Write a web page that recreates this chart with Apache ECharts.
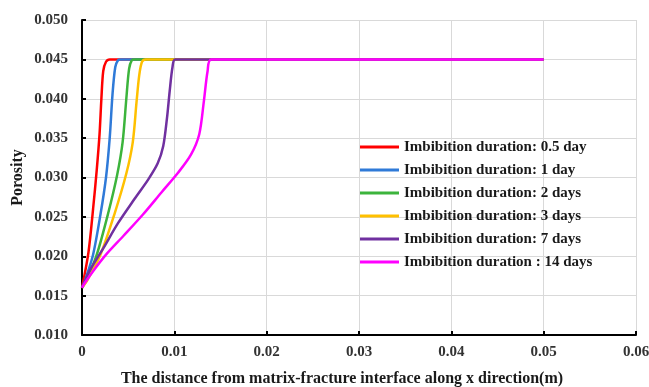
<!DOCTYPE html>
<html>
<head>
<meta charset="utf-8">
<script src="https://cdn.jsdelivr.net/npm/echarts@6/dist/echarts.min.js"></script>
<style>
  html, body { margin: 0; padding: 0; background: #fff; }
  #chart { width: 649px; height: 387px; }
</style>
</head>
<body>
<div id="chart"></div>
<script>
// Porosity profiles [distance (m), porosity] for each imbibition duration
const seriesNames = [
  'Imbibition duration: 0.5 day',
  'Imbibition duration: 1 day',
  'Imbibition duration: 2 days',
  'Imbibition duration: 3 days',
  'Imbibition duration: 7 days',
  'Imbibition duration : 14 days'
];
const day05 = [[0,0.016],[0.0007,0.0205],[0.0012,0.026],[0.0016,0.031],[0.0019,0.0355],[0.0021,0.040],[0.0023,0.0435],[0.0026,0.0447],[0.0030,0.045],[0.05,0.045]];
const day1  = [[0,0.016],[0.0004,0.0172],[0.0012,0.0202],[0.0020,0.0253],[0.0026,0.0300],[0.0030,0.0350],[0.0033,0.0405],[0.0036,0.0440],[0.0039,0.0449],[0.0042,0.045],[0.05,0.045]];
const day2  = [[0,0.016],[0.0005,0.0170],[0.0016,0.0202],[0.0028,0.0253],[0.0038,0.0303],[0.0044,0.0345],[0.0048,0.0400],[0.0051,0.0438],[0.0054,0.0449],[0.0057,0.045],[0.05,0.045]];
const day3  = [[0,0.016],[0.0006,0.0170],[0.0020,0.0202],[0.0035,0.0253],[0.0048,0.0305],[0.0055,0.0345],[0.0059,0.0395],[0.0062,0.0430],[0.0065,0.0447],[0.0069,0.045],[0.05,0.045]];
const day7  = [[0,0.016],[0.0008,0.0181],[0.0023,0.0210],[0.0039,0.0242],[0.0057,0.0273],[0.0072,0.0298],[0.0082,0.0318],[0.0088,0.0340],[0.0092,0.0375],[0.0095,0.0410],[0.0098,0.0440],[0.0101,0.045],[0.05,0.045]];
const day14 = [[0,0.016],[0.0003,0.0166],[0.0012,0.0181],[0.0026,0.0202],[0.0045,0.0226],[0.0066,0.0253],[0.0086,0.0281],[0.0104,0.0306],[0.0118,0.0329],[0.0127,0.0355],[0.0132,0.0397],[0.0136,0.0435],[0.0140,0.045],[0.05,0.045]];
const seriesData = [day05, day1, day2, day3, day7, day14];
const colors = ['#ff0000', '#2f7ad8', '#3cb43c', '#ffc000', '#7030a0', '#ff00ff'];

// Axis ranges and tick spacing
const xMin = 0, xMax = 0.06, xStep = 0.01;
const yMin = 0.010, yMax = 0.050, yStep = 0.005;

const serif = '"Liberation Serif", "Times New Roman", serif';
const chart = echarts.init(document.getElementById('chart'), null, { renderer: 'canvas' });

chart.setOption({
  animation: false,
  color: colors,
  grid: { left: 82, right: 13, top: 20, bottom: 52, containLabel: false, outerBoundsMode: 'none' },
  legend: {
    orient: 'vertical',
    left: 355,
    top: 134,
    icon: 'rect',
    itemWidth: 39,
    itemHeight: 3,
    itemGap: 7,
    data: seriesNames,
    textStyle: { fontFamily: serif, fontWeight: 'bold', fontSize: 15, lineHeight: 16, color: '#1a1a1a' }
  },
  xAxis: {
    type: 'value',
    min: xMin, max: xMax, interval: xStep,
    name: 'The distance from matrix-fracture interface along x direction(m)',
    nameLocation: 'middle',
    nameGap: 36,
    nameMoveOverlap: false,
    nameTextStyle: { fontFamily: serif, fontWeight: 'bold', fontSize: 16, color: '#1a1a1a', padding: [0, 34, 0, 0] },
    axisLine: { lineStyle: { color: '#000', width: 2 } },
    axisTick: { inside: true, length: 4, lineStyle: { color: '#000', width: 2 } },
    axisLabel: {
      margin: 10,
      fontFamily: serif, fontWeight: 'bold', fontSize: 15, color: '#333',
      formatter: v => (v === 0 ? '0' : v.toFixed(2))
    },
    splitLine: { show: true, lineStyle: { color: '#d9d9d9', width: 1 } }
  },
  yAxis: {
    type: 'value',
    min: yMin, max: yMax, interval: yStep,
    name: 'Porosity',
    nameLocation: 'middle',
    nameGap: 56,
    nameMoveOverlap: false,
    nameTextStyle: { fontFamily: serif, fontWeight: 'bold', fontSize: 16, color: '#1a1a1a' },
    axisLine: { show: true, lineStyle: { color: '#000', width: 2 } },
    axisTick: { show: true, inside: true, length: 4, lineStyle: { color: '#000', width: 2 } },
    axisLabel: {
      margin: 14,
      fontFamily: serif, fontWeight: 'bold', fontSize: 15, color: '#333',
      formatter: v => v.toFixed(3)
    },
    splitLine: { show: true, lineStyle: { color: '#d9d9d9', width: 1 } }
  },
  series: seriesNames.map((name, i) => ({
    name,
    type: 'line',
    data: seriesData[i],
    showSymbol: false,
    symbol: 'none',
    smooth: 0.3,
    lineStyle: { width: 2.5, color: colors[i] },
    itemStyle: { color: colors[i] }
  }))
});
</script>
</body>
</html>
